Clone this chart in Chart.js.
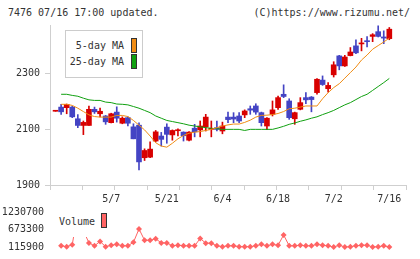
<!DOCTYPE html>
<html>
<head>
<meta charset="utf-8">
<script src="https://cdn.jsdelivr.net/npm/chart.js@4.4.1/dist/chart.umd.min.js"></script>
<style>
body{margin:0;background:#fff}
#wrap{position:relative;width:420px;height:259px;overflow:hidden;background:#fff;font-family:"DejaVu Sans Mono",monospace;font-size:10px;color:#333}
.t{position:absolute;line-height:12px;white-space:pre}
canvas{position:absolute;left:0}
#lg1{position:absolute;left:65px;top:30px;width:76px;height:46px;border:1px solid #ccc;background:#fff}
#lg2{position:absolute;left:55px;top:207px;width:57px;height:30px;background:#fff}
.sw{position:absolute;width:4px;height:13px;border:1px solid #333}
</style>
</head>
<body>
<div id="wrap">
  <div class="t" style="left:8px;top:7px">7476 07/16 17:00 updated.</div>
  <div class="t" style="right:10px;top:7px">(C)https://www.rizumu.net/</div>
  <canvas id="price" width="420" height="205" style="top:0"></canvas>
  <canvas id="vol" width="420" height="59" style="top:200px"></canvas>
  <div id="lg1">
    <div class="t" style="right:18px;top:9px">5-day MA</div>
    <div class="sw" style="left:65px;top:7px;background:#f08c14"></div>
    <div class="t" style="right:18px;top:25px">25-day MA</div>
    <div class="sw" style="left:65px;top:23px;background:#10a010"></div>
  </div>
  <div id="lg2">
    <div class="t" style="left:4px;top:9px">Volume</div>
    <div class="sw" style="left:46px;top:6px;background:#ff6464"></div>
  </div>
</div>
<script>
// candles start one day before the first volume point
var firstIdx = -1;
var openP  = [2165,2180,2178,2180,2138,2114,2114,2172,2156,2148,2124,2162,2122,2142,2109,2115,1998,2000,2058,2076,2108,2080,2095,2090,2061,2104,2098,2109,2100,2106,2094,2144,2144,2148,2152,2174,2184,2160,2112,2154,2178,2226,2202,2138,2172,2214,2216,2232,2277,2246,2296,2364,2328,2365,2400,2407,2418,2434,2451,2432,2426];
var highP  = [2166,2190,2191,2183,2153,2130,2184,2180,2176,2150,2158,2181,2145,2145,2120,2123,2030,2055,2096,2089,2120,2098,2102,2091,2092,2118,2130,2154,2130,2130,2126,2162,2160,2160,2170,2184,2192,2162,2142,2202,2220,2260,2210,2162,2214,2232,2218,2282,2292,2268,2343,2366,2366,2394,2422,2427,2433,2444,2472,2454,2466];
var lowP   = [2165,2154,2156,2142,2106,2081,2114,2157,2145,2118,2123,2126,2120,2112,2066,1954,1988,1998,2055,2040,2050,2061,2076,2058,2058,2073,2073,2094,2073,2094,2084,2124,2124,2124,2142,2154,2154,2112,2099,2148,2172,2214,2136,2118,2170,2192,2163,2226,2258,2234,2288,2314,2326,2364,2372,2382,2396,2415,2432,2408,2422];
var closeP = [2166,2163,2190,2145,2114,2125,2172,2163,2165,2127,2156,2140,2140,2122,2066,1983,2024,2029,2091,2064,2082,2096,2098,2077,2090,2091,2112,2144,2103,2100,2112,2135,2137,2130,2166,2169,2162,2124,2140,2170,2214,2218,2142,2160,2196,2206,2207,2280,2261,2258,2332,2328,2360,2378,2375,2410,2415,2440,2434,2428,2460];

// moving averages as drawn, from day 0
var ma5 = [2190,2190,2186,2176,2164,2152,2146,2144,2144,2144,2150,2150,2146,2132,2115,2098,2076,2052,2040,2036,2050,2066,2078,2086,2090,2092,2096,2100,2106,2112,2116,2119,2119,2125,2133,2144,2150,2151,2153,2157,2164,2174,2176,2180,2184,2184,2184,2210,2232,2250,2264,2284,2304,2324,2349,2367,2388,2401,2414,2428];
var ma25 = [2226,2226,2222,2219,2212,2206,2204,2204,2198,2196,2191,2190,2188,2182,2176,2168,2160,2148,2140,2132,2128,2124,2120,2115,2112,2109,2106,2104,2102,2100,2100,2100,2100,2096,2100,2100,2100,2100,2100,2105,2111,2118,2123,2129,2134,2140,2145,2153,2160,2168,2178,2188,2196,2207,2218,2226,2240,2254,2268,2283];
var volume = [153000,125000,191000,1230700,640000,247000,153000,294000,125000,172000,200000,153000,153000,266000,690000,331000,331000,378000,247000,247000,153000,172000,153000,153000,153000,388000,238000,238000,153000,125000,153000,153000,125000,125000,125000,153000,200000,153000,200000,172000,500000,153000,153000,172000,153000,153000,200000,172000,153000,115900,172000,115900,125000,153000,172000,172000,115900,125000,153000,115900];

var tickLabels = ['5/7','5/21','6/4','6/18','7/2','7/16'];
var tickAt = [9,19,29,39,49,59];
var priceTicks = [1900,2100,2300];
var volTicks = [115900,673300,1230700];

var UP = '#d80000', DOWN = '#4444c4', ORANGE = '#f08c14', GREEN = '#10a010', VOLC = '#ff6464', AXIS = '#cfcfcf';
var X_MIN = -2, X_MAX = 62, MARKS = 12;

Chart.defaults.font.family = '"DejaVu Sans Mono", monospace';
Chart.defaults.font.size = 10;
Chart.defaults.color = '#333';

var wick = [], body = [], cols = [];
for (var k = 0; k < openP.length; k++) {
    var x = firstIdx + k;
    wick.push({x: x, y: [lowP[k], highP[k]]});
    body.push({x: x, y: [openP[k], closeP[k]]});
    cols.push(closeP[k] >= openP[k] ? UP : DOWN);
}
function pts(arr) {
    return arr.map(function(v, i) { return {x: i, y: v}; });
}

// tick marks are evenly spaced, labels sit on their own days
var xTicks = [];
for (var m = 0; m < MARKS; m++) xTicks.push(X_MIN + m * (X_MAX - X_MIN) / (MARKS - 1));
xTicks = xTicks.concat(tickAt).sort(function(a, b) { return a - b; });

new Chart(document.getElementById('price'), {
    type: 'bar',
    data: {
        datasets: [
            {type: 'line', data: pts(ma5), borderColor: ORANGE, borderWidth: 1, pointRadius: 0, tension: 0, order: 0},
            {type: 'line', data: pts(ma25), borderColor: GREEN, borderWidth: 1, pointRadius: 0, tension: 0, order: 0},
            {type: 'bar', data: body, backgroundColor: cols, barThickness: 5, minBarLength: 1, grouped: false, order: 1},
            {type: 'bar', data: wick, backgroundColor: cols, barThickness: 1, grouped: false, order: 2}
        ]
    },
    options: {
        responsive: false,
        animation: false,
        layout: {padding: {top: 25, right: 14, left: 0, bottom: 0}},
        plugins: {legend: {display: false}, tooltip: {enabled: false}},
        scales: {
            x: {
                type: 'linear', min: X_MIN, max: X_MAX, offset: false,
                afterBuildTicks: function(s) { s.ticks = xTicks.map(function(v) { return {value: v}; }); },
                afterFit: function(s) { s.height = 20; },
                grid: {
                    offset: false, drawOnChartArea: false, tickLength: 5, color: AXIS,
                    tickColor: function(c) {
                        if (!c.tick) return AXIS;
                        return tickAt.indexOf(c.tick.value) >= 0 ? 'rgba(0,0,0,0)' : AXIS;
                    }
                },
                border: {color: AXIS},
                ticks: {
                    autoSkip: false, maxRotation: 0, padding: 3,
                    callback: function(v) { var j = tickAt.indexOf(v); return j >= 0 ? tickLabels[j] : ''; }
                }
            },
            y: {
                min: 1900, max: 2475,
                afterBuildTicks: function(s) { s.ticks = priceTicks.map(function(v) { return {value: v}; }); },
                afterFit: function(s) { s.width = 50; },
                grid: {drawOnChartArea: false, tickLength: 5, color: AXIS},
                border: {color: AXIS},
                ticks: {padding: 5, callback: function(v) { return String(v); }}
            }
        }
    }
});

new Chart(document.getElementById('vol'), {
    type: 'line',
    data: {
        datasets: [{
            data: pts(volume), borderColor: VOLC, borderWidth: 1, tension: 0,
            pointStyle: 'rectRot', pointRadius: 3, pointBackgroundColor: VOLC, pointBorderWidth: 0,
            clip: 6
        }]
    },
    options: {
        responsive: false,
        animation: false,
        layout: {padding: {top: 9, right: 14, left: 0, bottom: 10.7}},
        plugins: {legend: {display: false}, tooltip: {enabled: false}},
        scales: {
            x: {type: 'linear', min: X_MIN, max: X_MAX, display: false},
            y: {
                min: 115900, max: 1230700,
                afterBuildTicks: function(s) { s.ticks = volTicks.map(function(v) { return {value: v}; }); },
                afterFit: function(s) { s.width = 50; },
                grid: {display: false, drawTicks: false, tickLength: 0},
                border: {display: false},
                ticks: {padding: 6, callback: function(v) { return String(v); }}
            }
        }
    }
});
</script>
</body>
</html>
